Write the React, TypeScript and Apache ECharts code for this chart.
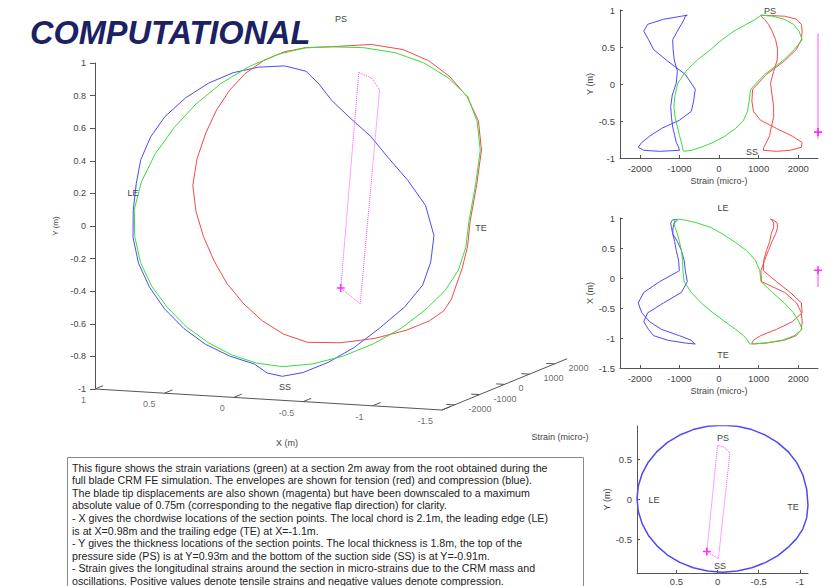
import React, { useEffect, useRef } from 'react';
import * as echarts from 'echarts';

// Section points (X = chordwise, Y = thickness), going LE -> PS -> TE -> SS -> LE
const secX = [0.98, 0.964, 0.917, 0.841, 0.737, 0.609, 0.46, 0.296, 0.121, -0.06, -0.241, -0.416, -0.58, -0.729, -0.857, -0.961, -1.037, -1.084, -1.1, -1.084, -1.037, -0.961, -0.857, -0.729, -0.58, -0.416, -0.241, -0.06, 0.121, 0.296, 0.46, 0.609, 0.737, 0.841, 0.917, 0.964];
const secY = [0.01, 0.17, 0.325, 0.47, 0.6, 0.715, 0.807, 0.875, 0.916, 0.93, 0.916, 0.875, 0.807, 0.715, 0.6, 0.465, 0.31, 0.13, -0.07, -0.23, -0.37, -0.49, -0.6, -0.705, -0.79, -0.855, -0.896, -0.91, -0.896, -0.855, -0.787, -0.695, -0.58, -0.45, -0.305, -0.15];
// Strains (micro-strain) at each section point
const strainGreen = [-1040, -840, -550, -200, 80, 380, 690, 920, 1030, 1060, 1350, 1650, 1880, 2020, 2100, 1900, 1600, 1150, 800, 760, 720, 620, 420, 150, -150, -450, -700, -880, -910, -920, -950, -1000, -1050, -1110, -1140, -1110];
const strainRed = [1300, 1380, 1470, 1480, 1430, 1340, 1250, 1150, 1060, 1070, 1660, 1960, 2080, 2100, 2080, 1950, 1650, 1200, 850, 830, 870, 1050, 1450, 1850, 2100, 2080, 1800, 1450, 1120, 1130, 1200, 1280, 1320, 1380, 1380, 1340];
const strainBlue = [-1080, -1050, -1130, -1160, -1170, -1050, -950, -880, -850, -800, -950, -1400, -1800, -1900, -1780, -1650, -1300, -850, -600, -640, -700, -1000, -1450, -1750, -1950, -2040, -1900, -1500, -1000, -1020, -1080, -1120, -1170, -1200, -1220, -1180];
// Blade tip displacement trace (downscaled)
const tipX = [0.0, -0.09, -0.15, -0.01, 0.13, 0.0];
const tipY = [0.68, 0.65, 0.58, -0.74, -0.65, 0.68];
const tipNow = [0.13, -0.65];
// Tick labels
const xTicks3D = [1, 0.5, 0, -0.5, -1, -1.5];
const strainTicks = [-2000, -1000, 0, 1000, 2000];
const brXTicks = [0.5, 0, -0.5, -1];
const brYTicks = [-0.5, 0, 0.5];

const noteLines = [
  'This figure shows the strain variations (green) at a section 2m away from the root obtained during the',
  'full blade CRM FE simulation. The envelopes are shown for tension (red) and compression (blue).',
  'The blade tip displacements are also shown (magenta) but have been downscaled to a maximum',
  'absolute value of 0.75m (corresponding to the negative flap direction) for clarity.',
  '- X gives the chordwise locations of the section points. The local chord is 2.1m, the leading edge (LE)',
  'is at X=0.98m and the trailing edge (TE) at X=-1.1m.',
  '- Y gives the thickness locations of the section points. The local thickness is 1.8m, the top of the',
  'pressure side (PS) is at Y=0.93m and the bottom of the suction side (SS) is at Y=-0.91m.',
  '- Strain gives the longitudinal strains around the section in micro-strains due to the CRM mass and',
  'oscillations. Positive values denote tensile strains and negative values denote compression.',
];

// 3D view: strain range of the box and oblique projection factors
const S_MIN = -2500;
const S_MAX = 2500;
const K_SX = 25 / 138.8 / 1000;
const K_XY = 8.4 / 163;
const K_SY = 10.25 / 163 / 1000;
const proj = (x: number, y: number, s: number) => [x - (s - S_MIN) * K_SX, y - (1 - x) * K_XY + (s - S_MIN) * K_SY];

const GREEN = '#3cdc3c';
const RED = '#f24a4a';
const BLUE = '#4b4bf5';
const MAG = '#ff44ff';
const AX = '#555';
const TXT = '#444';
const FONT = '"Liberation Sans", Arial, sans-serif';

const closed = (a: number[][]) => [...a, a[0]];
const plain = (v: number) => String(v);

export default function App() {
  const ref = useRef<HTMLDivElement>(null);
  useEffect(() => {
    const chart = echarts.init(ref.current!, null, { renderer: 'svg' });

    const line = (data: any[], color: string, idx: number, extra: any = {}) => ({
      type: 'line', xAxisIndex: idx, yAxisIndex: idx, data, symbol: 'none', silent: true,
      lineStyle: { color, width: 1 }, clip: false, z: 3, ...extra,
    });
    const plus = (pt: number[], idx: number) => ({
      type: 'scatter', xAxisIndex: idx, yAxisIndex: idx, data: [pt], symbol: 'path://M4,0H6V4H10V6H6V10H4V6H0V4H4Z',
      symbolSize: 8, itemStyle: { color: '#ff00ff' }, silent: true, clip: false, z: 5,
    });

    const curves = [
      { s: strainBlue, c: BLUE },
      { s: strainRed, c: RED },
      { s: strainGreen, c: GREEN },
    ];

    const series: any[] = [];
    // main 3D view
    curves.forEach(({ s, c }) => series.push(line(closed(secX.map((x, i) => proj(x, secY[i], s[i]))), c, 0)));
    series.push(line(tipX.map((x, i) => proj(x, tipY[i], S_MAX)), MAG, 0, { lineStyle: { color: MAG, width: 1, type: 'dotted' } }));
    series.push(plus(proj(tipNow[0], tipNow[1], S_MAX), 0));
    series.push(line([proj(1, -1, S_MIN), proj(-1.5, -1, S_MIN), proj(-1.5, -1, S_MAX)], AX, 0, { lineStyle: { color: AX, width: 1 } }));
    series.push({
      type: 'lines', coordinateSystem: 'cartesian2d', xAxisIndex: 0, yAxisIndex: 0, silent: true, clip: false,
      lineStyle: { color: AX, width: 1, opacity: 1 },
      data: [
        ...xTicks3D.map((x) => ({ coords: [proj(x, -1, S_MIN), proj(x, -1, S_MIN + 320)] })),
        ...strainTicks.map((s) => ({ coords: [proj(-1.5, -1, s), proj(-1.44, -1, s)] })),
      ],
    });
    series.push({
      type: 'scatter', xAxisIndex: 0, yAxisIndex: 0, symbolSize: 0, silent: true, clip: false,
      data: xTicks3D.map((x) => ({ value: proj(x, -1, S_MIN), name: String(x) })),
      label: { show: true, formatter: '{b}', position: [-9, 11], align: 'right', verticalAlign: 'middle', fontSize: 9, color: TXT, fontFamily: FONT },
    });
    series.push({
      type: 'scatter', xAxisIndex: 0, yAxisIndex: 0, symbolSize: 0, silent: true, clip: false,
      data: strainTicks.map((s) => ({ value: proj(-1.5, -1, s), name: String(s) })),
      label: { show: true, formatter: '{b}', position: [14, 4], align: 'left', verticalAlign: 'middle', fontSize: 9, color: TXT, fontFamily: FONT },
    });

    // top right: strain vs Y
    curves.forEach(({ s, c }) => series.push(line(closed(s.map((v, i) => [v, secY[i]])), c, 1)));
    series.push(line(tipY.map((y) => [S_MAX, y]), MAG, 1, { lineStyle: { color: MAG, width: 1, type: 'dotted' } }));
    series.push(plus([S_MAX, tipNow[1]], 1));
    // middle right: strain vs X
    curves.forEach(({ s, c }) => series.push(line(closed(s.map((v, i) => [v, secX[i]])), c, 2)));
    series.push(line(tipX.map((x) => [S_MAX, x]), MAG, 2, { lineStyle: { color: MAG, width: 1, type: 'dotted' } }));
    series.push(plus([S_MAX, tipNow[0]], 2));
    // bottom right: section X vs Y
    series.push(line(closed(secX.map((x, i) => [x, secY[i]])), BLUE, 3, { clip: true, lineStyle: { color: BLUE, width: 1.5 } }));
    series.push(line(tipX.map((x, i) => [x, tipY[i]]), MAG, 3, { lineStyle: { color: MAG, width: 1, type: 'dotted' } }));
    series.push(plus(tipNow, 3));

    const lbl = { fontSize: 9, color: TXT, fontFamily: FONT };
    const axisCommon = {
      type: 'value',
      axisLine: { show: true, onZero: false, lineStyle: { color: AX, width: 1 } },
      axisTick: { show: true, inside: true, length: 3, lineStyle: { color: AX } },
      axisLabel: { ...lbl, fontSize: 9.5, margin: 5, formatter: plain },
      splitLine: { show: false },
      nameTextStyle: { ...lbl },
      nameLocation: 'middle',
    };

    const texts: [string, number, number][] = [
      ['PS', 341, 19], ['LE', 133, 193], ['TE', 481, 228], ['SS', 285, 387],
      ['X (m)', 287, 443], ['Strain (micro-)', 560, 437],
      ['PS', 770, 11], ['SS', 752, 152],
      ['LE', 723, 208], ['TE', 723, 355],
      ['PS', 723, 438], ['LE', 654, 500], ['TE', 793, 507], ['SS', 720, 566],
    ];

    const graphic: any[] = [
      { type: 'text', x: 30, y: 16.5, z: 10, style: { text: 'COMPUTATIONAL', font: 'italic bold 32.5px "Liberation Sans", Arial, sans-serif', fill: '#1b2163', verticalAlign: 'top' } },
      ...texts.map(([t, x, y]) => ({ type: 'text', x, y, z: 10, style: { text: t, fontSize: 9, fontFamily: FONT, fill: TXT, align: 'center', verticalAlign: 'middle' } })),
      { type: 'rect', z: 10, shape: { x: 67.5, y: 457.5, width: 516, height: 140 }, style: { fill: '#fff', stroke: '#8a8a8a', lineWidth: 1 } },
      ...noteLines.map((t, i) => ({ type: 'text', z: 11, x: 72, y: 467.5 + i * 12.6, style: { text: t, fontSize: 10.65, fontFamily: FONT, fill: '#222', verticalAlign: 'middle' } })),
    ];

    chart.setOption({
      animation: false,
      backgroundColor: '#fff',
      textStyle: { fontFamily: FONT },
      grid: [
        { left: 95, top: 63, width: 485.8, height: 326 },
        { left: 620, top: 10, width: 198, height: 148 },
        { left: 620, top: 218, width: 198, height: 150 },
        { left: 637, top: 426, width: 171, height: 150 },
      ],
      xAxis: [
        { type: 'value', gridIndex: 0, min: -2.5, max: 1, inverse: true, show: false },
        { ...axisCommon, gridIndex: 1, min: S_MIN, max: S_MAX, name: 'Strain (micro-)', nameGap: 18,
          axisTick: { ...axisCommon.axisTick, customValues: strainTicks }, axisLabel: { ...axisCommon.axisLabel, customValues: strainTicks } },
        { ...axisCommon, gridIndex: 2, min: S_MIN, max: S_MAX, name: 'Strain (micro-)', nameGap: 18,
          axisTick: { ...axisCommon.axisTick, customValues: strainTicks }, axisLabel: { ...axisCommon.axisLabel, customValues: strainTicks } },
        { ...axisCommon, gridIndex: 3, min: -1.1, max: 0.98, inverse: true,
          axisTick: { ...axisCommon.axisTick, customValues: brXTicks }, axisLabel: { ...axisCommon.axisLabel, margin: 3, customValues: brXTicks } },
      ],
      yAxis: [
        { type: 'value', gridIndex: 0, min: -1, max: 1, interval: 0.2,
          axisLine: { show: true, onZero: false, lineStyle: { color: AX } },
          axisTick: { show: true, inside: false, length: 5, lineStyle: { color: AX } },
          axisLabel: { ...lbl, margin: 9, formatter: plain },
          splitLine: { show: false }, name: 'Y (m)', nameLocation: 'middle', nameGap: 33, nameTextStyle: { ...lbl, fontSize: 8 } },
        { ...axisCommon, gridIndex: 1, min: -1, max: 1, interval: 0.5, name: 'Y (m)', nameGap: 24 },
        { ...axisCommon, gridIndex: 2, min: -1.5, max: 1, interval: 0.5, name: 'X (m)', nameGap: 24 },
        { ...axisCommon, gridIndex: 3, min: -0.92, max: 0.92, name: 'Y (m)', nameGap: 26,
          axisTick: { ...axisCommon.axisTick, customValues: brYTicks }, axisLabel: { ...axisCommon.axisLabel, customValues: brYTicks } },
      ],
      series,
      graphic,
    });
    return () => chart.dispose();
  }, []);
  return <div ref={ref} style={{ position: 'fixed', left: 0, top: 0, width: 838, height: 586, background: '#fff' }} />;
}
